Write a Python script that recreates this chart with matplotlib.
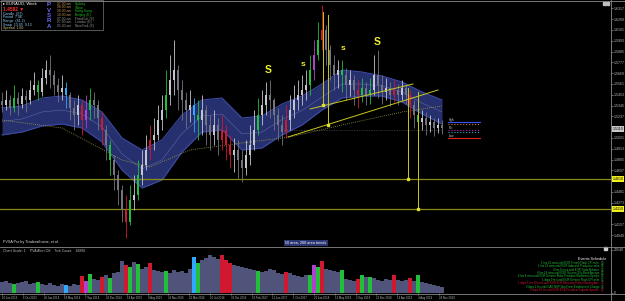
import matplotlib
matplotlib.use("Agg")
import matplotlib.pyplot as plt
from matplotlib.lines import Line2D
from matplotlib.patches import Rectangle

plt.rcParams["font.family"] = ["Liberation Sans", "DejaVu Sans"]

W, H = 625, 301

# weekly EURAUD bars
closes = [
    1.535, 1.540, 1.532, 1.542, 1.536, 1.544, 1.540, 1.550, 1.555, 1.548,
    1.562, 1.570, 1.565, 1.555, 1.548, 1.552, 1.545, 1.532, 1.525, 1.535,
    1.520, 1.530, 1.540, 1.535, 1.522, 1.510, 1.495, 1.480, 1.465, 1.450,
    1.430, 1.418, 1.440, 1.445, 1.465, 1.475, 1.490, 1.500, 1.505, 1.520,
    1.530, 1.545, 1.560, 1.570, 1.550, 1.540, 1.530, 1.535, 1.525, 1.520,
    1.530, 1.515, 1.505, 1.515, 1.500, 1.510, 1.495, 1.485, 1.490, 1.480,
    1.472, 1.485, 1.495, 1.510, 1.525, 1.535, 1.545, 1.540, 1.525, 1.515,
    1.508, 1.520, 1.530, 1.540, 1.545, 1.550, 1.555, 1.570, 1.585, 1.600,
    1.610, 1.590, 1.575, 1.565, 1.570, 1.565, 1.555, 1.560, 1.550, 1.545,
    1.552, 1.545, 1.550, 1.565, 1.555, 1.548, 1.552, 1.545, 1.550, 1.545,
    1.552, 1.545, 1.535, 1.525, 1.518, 1.522, 1.515, 1.518, 1.512, 1.515,
    1.512,
]
highs = [
    1.548, 1.550, 1.545, 1.555, 1.548, 1.552, 1.550, 1.560, 1.568, 1.560,
    1.572, 1.580, 1.585, 1.570, 1.562, 1.565, 1.558, 1.548, 1.540, 1.545,
    1.540, 1.545, 1.552, 1.548, 1.540, 1.528, 1.515, 1.500, 1.485, 1.470,
    1.455, 1.445, 1.455, 1.465, 1.480, 1.490, 1.505, 1.515, 1.522, 1.535,
    1.545, 1.570, 1.585, 1.600, 1.575, 1.560, 1.548, 1.550, 1.542, 1.540,
    1.545, 1.535, 1.525, 1.530, 1.522, 1.525, 1.515, 1.505, 1.502, 1.500,
    1.490, 1.500, 1.515, 1.530, 1.542, 1.550, 1.558, 1.560, 1.542, 1.532,
    1.525, 1.535, 1.545, 1.555, 1.560, 1.565, 1.570, 1.585, 1.600, 1.618,
    1.635, 1.615, 1.595, 1.585, 1.580, 1.580, 1.572, 1.570, 1.565, 1.560,
    1.562, 1.558, 1.562, 1.585, 1.590, 1.565, 1.562, 1.558, 1.560, 1.556,
    1.560, 1.555, 1.550, 1.540, 1.532, 1.530, 1.528, 1.525, 1.522, 1.522,
    1.520,
]
lows = [
    1.528, 1.530, 1.525, 1.528, 1.525, 1.532, 1.528, 1.536, 1.545, 1.540,
    1.544, 1.556, 1.552, 1.545, 1.538, 1.540, 1.532, 1.520, 1.510, 1.515,
    1.505, 1.512, 1.520, 1.522, 1.510, 1.495, 1.480, 1.465, 1.450, 1.435,
    1.418, 1.402, 1.415, 1.430, 1.440, 1.455, 1.470, 1.480, 1.490, 1.500,
    1.510, 1.522, 1.535, 1.545, 1.530, 1.520, 1.512, 1.518, 1.508, 1.500,
    1.505, 1.495, 1.490, 1.495, 1.485, 1.490, 1.480, 1.472, 1.468, 1.462,
    1.458, 1.465, 1.475, 1.490, 1.505, 1.515, 1.525, 1.522, 1.510, 1.500,
    1.495, 1.502, 1.510, 1.522, 1.530, 1.535, 1.540, 1.545, 1.560, 1.580,
    1.590, 1.575, 1.560, 1.550, 1.552, 1.548, 1.540, 1.544, 1.535, 1.532,
    1.538, 1.535, 1.536, 1.545, 1.542, 1.536, 1.540, 1.534, 1.538, 1.535,
    1.540, 1.536, 1.522, 1.512, 1.508, 1.510, 1.505, 1.508, 1.504, 1.507,
    1.506,
]
# tick volume in thousands
volumes = [
    7.0, 7.7, 6.4, 5.8, 6.4, 7.0, 7.7, 5.8, 6.4, 7.0,
    5.8, 5.1, 6.4, 5.1, 4.5, 5.8, 5.1, 4.5, 5.8, 5.1,
    10.9, 7.7, 12.2, 9.0, 8.3, 10.2, 11.5, 9.6, 12.8, 13.4,
    20.5, 17.9, 16.6, 19.8, 18.6, 15.4, 16.6, 19.2, 14.7, 14.1,
    13.4, 14.1, 12.8, 14.7, 13.4, 14.1, 12.8, 15.4, 23.0, 19.2,
    21.1, 22.4, 24.3, 23.0, 21.8, 24.3, 21.1, 19.2, 17.9, 17.3,
    16.6, 16.0, 15.4, 14.7, 14.1, 13.4, 14.1, 15.4, 14.7, 12.8,
    12.2, 13.4, 12.8, 11.5, 10.9, 10.2, 11.5, 11.5, 17.9, 16.6,
    20.5, 15.4, 14.7, 14.1, 13.4, 14.7, 9.0, 8.3, 7.7, 9.0,
    11.5, 10.2, 10.2, 9.6, 8.3, 7.7, 9.0, 8.3, 11.5, 8.3,
    7.7, 8.3, 9.6, 7.7, 11.5, 7.0, 6.4, 5.8, 5.1, 4.5,
    3.8,
]
# PVSRA highlighted bars: index -> kind
pvsra_bars = {
    3: "green", 9: "green", 16: "blue", 20: "red", 21: "magenta", 22: "green",
    25: "red", 27: "green", 31: "red", 32: "green", 34: "green", 37: "red",
    41: "green", 48: "blue", 49: "green", 55: "red", 56: "red", 57: "red",
    64: "green", 71: "red", 77: "green", 78: "magenta", 79: "green", 80: "red",
    85: "green", 89: "red", 90: "green", 92: "green", 98: "red", 102: "red",
    104: "green",
}

# 50 area ribbon
band_idx = [0, 5, 10, 15, 20, 25, 30, 35, 40, 45, 50, 55,
            60, 65, 70, 75, 80, 85, 90, 95, 100, 105, 110]
band_hi = [1.532, 1.534, 1.542, 1.544, 1.540, 1.528, 1.502, 1.490, 1.500, 1.525, 1.540, 1.542,
           1.522, 1.524, 1.536, 1.544, 1.556, 1.570, 1.568, 1.564, 1.558, 1.548, 1.540]
band_lo = [1.505, 1.508, 1.514, 1.516, 1.512, 1.498, 1.470, 1.452, 1.460, 1.488, 1.508, 1.510,
           1.490, 1.492, 1.505, 1.515, 1.530, 1.542, 1.544, 1.544, 1.538, 1.526, 1.516]
# 200 area (dotted)
slow_idx = [0, 15, 30, 37, 47, 60, 72, 85, 100, 110]
slow_ma = [1.520, 1.512, 1.480, 1.473, 1.490, 1.497, 1.503, 1.515, 1.528, 1.534]

sr_levels = [1.461, 1.431]
trend_a_idx, trend_a_px = [77, 102.75], [1.531, 1.556]
trend_b_idx, trend_b_px = [71.5, 109], [1.503, 1.550]
drops_idx = [80.2, 81.4, 101.5, 104]
drops_top = [1.628, 1.625, 1.552, 1.548]
drops_bot = [1.535, 1.515, 1.461, 1.431]

pivot_levels = [1.518, 1.516, 1.510, 1.508, 1.502]
pivot_colors = ["#3c50ff", "#d08020", "#c020c0", "#20b0b0", "#e02020"]
pivot_styles = ["-", ":", ":", ":", "-"]
pivot_names = ["Hgh", "", "Pvt", "", "Low"]

s_idx = [66.5, 75.25, 85.25, 93.75]
s_px = [1.570, 1.576, 1.592, 1.598]
s_txt = ["S", "s", "s", "S"]

price_labels = ["1.6317", "1.6209", "1.6101", "1.5993", "1.5885", "1.5777", "1.5669",
                "1.5561", "1.5453", "1.5345", "1.5237", "1.5129", "1.5021", "1.4913",
                "1.4805", "1.4697", "1.4589", "1.4481", "1.4373", "1.4265", "1.4157",
                "1.4049"]
last_price = 1.5110

date_labels = ["16 Jun 2013", "6 Oct 2013", "26 Jan 2014", "18 May 2014", "7 Sep 2014",
               "28 Dec 2014", "19 Apr 2015", "9 Aug 2015", "29 Nov 2015", "20 Mar 2016",
               "10 Jul 2016", "30 Oct 2016", "19 Feb 2017", "11 Jun 2017", "1 Oct 2017",
               "21 Jan 2018", "13 May 2018", "2 Sep 2018", "23 Dec 2018", "14 Apr 2019",
               "4 Aug 2019", "24 Nov 2019"]

events = [
    ("1 hrs 41 mins until EUR French Flash CPI m/m", "green"),
    ("1 hrs 41 mins until EUR Industrial Production m/m", "green"),
    ("4 hrs 0 mins until EUR Trade Balance", "green"),
    ("4 hrs 14 mins until EUR German 30y Bond Auction", "green"),
    ("6 hrs 8 mins until EUR German Buba President Weidmann Speaks", "green"),
    ("1 days 9 hrs until EUR German Flash CPI m/m", "green"),
    ("1 days 1 hrs 38 mins until EUR ECB Monetary Policy Meeting Acc", "red"),
    ("3 days 2 hrs until CAD NHP Non-Farm Employment Change", "green"),
    ("5 days 10 hrs until EUR ECB President Lagarde Speaks", "red"),
]

info_left = [("Candle  (07)", "#8fd0ff"), ("Period  7.96", "#8fd0ff"),
             ("Range  (81.2)", "#8fd0ff"), ("Swap  13.05  9.13", "#8fd0ff"),
             ("Spread  1.60", "#e0d080")]
sessions = [("07:00 am", "Sydney"), ("08:00 am", "Tokyo"), ("09:00 am", "Hong Kong"),
            ("10:00 am", "Beijing (E)"), ("07:00 am", "Frankfurt (E)"),
            ("07:00 am", "London (E)"), ("01:00 am", "NewYork (E)")]

COL = {"green": "#22c03a", "red": "#d01830", "blue": "#30a8ff", "magenta": "#b040d0"}
BULL, BEAR = "#c4c4cc", "#74747e"
VOLC = "#50547a"
FG = "#b8b8b8"
SMALL = 2.6


def fx(x):
    return x / W


def fy(y):
    return 1 - y / H


fig = plt.figure(figsize=(W / 100, H / 100), dpi=100, facecolor="black")
ax = fig.add_axes([0, fy(246), fx(611), (246 - 1) / H], facecolor="black")
axv = fig.add_axes([0, fy(293), fx(611), 46 / H], facecolor="black")
for a in (ax, axv):
    for s in a.spines.values():
        s.set_visible(False)
    a.set_xlim(-0.5, 152.25)

ax.set_ylim(1.394, 1.639)
axv.set_ylim(0, 29.54)

# ribbon
ax.fill_between(band_idx, band_lo, band_hi, color="#27306e", lw=0, zorder=1)
ax.plot(band_idx, band_hi, color="#3c4aa2", lw=0.8, zorder=1)
ax.plot(band_idx, band_lo, color="#3c4aa2", lw=0.8, zorder=1)
mid = [(a + b) / 2 for a, b in zip(band_hi, band_lo)]
ax.plot(band_idx, mid, color="#6e78b8", lw=0.3, zorder=1)
ax.plot(slow_idx, slow_ma, color="#a0a040", lw=0.6, ls=(0, (1, 1.5)), zorder=1)
ax.plot([70, 110], [1.510, 1.510], color="#909090", lw=0.4, ls=(0, (1, 2)), zorder=1)

# candles
opens = [closes[0] + 0.004] + closes[:-1]
for i, (o, c, hi, lo) in enumerate(zip(opens, closes, highs, lows)):
    if i in pvsra_bars:
        col = COL[pvsra_bars[i]]
    else:
        col = BULL if c >= o else BEAR
    ax.vlines(i, min(lo, o, c), max(hi, o, c), color=col, lw=0.6, zorder=3)
    ax.bar(i, max(abs(c - o), 0.0012), bottom=min(o, c), width=0.55, color=col, lw=0, zorder=3)

# support / resistance and trend lines
for lv in sr_levels:
    ax.axhline(lv, color="#8c8c14", lw=0.9, zorder=2)
ax.plot(trend_a_idx, trend_a_px, color="#c8c820", lw=0.7, zorder=4)
ax.plot(trend_b_idx, trend_b_px, color="#c8c820", lw=0.7, zorder=4)
for xi, t, b in zip(drops_idx, drops_top, drops_bot):
    ax.plot([xi, xi], [t, b], color="#c8c820", lw=0.7, zorder=4)
    ax.plot([xi], [b], marker="s", ms=1.5, color="#e0e030", zorder=4)

for lv, c, ls, nm in zip(pivot_levels, pivot_colors, pivot_styles, pivot_names):
    ax.plot([111.5, 119.5], [lv, lv], color=c, lw=0.8, ls=ls, zorder=4)
    if nm:
        ax.text(111.8, lv + 0.0016, nm, color="#d0d0d0", fontsize=2.2, va="center", zorder=5)

for xi, yv, t in zip(s_idx, s_px, s_txt):
    ax.text(xi, yv, t, color="#f0f030", fontsize=7.5 if t == "S" else 6,
            fontweight="bold", ha="center", va="center", zorder=5)

# price scale (labels hidden where a highlighted marker sits)
marked = [last_price] + sr_levels
shown = [p for p in price_labels if all(abs(float(p) - m) > 0.006 for m in marked)]
ax.yaxis.tick_right()
ax.set_yticks([float(p) for p in shown])
ax.set_yticklabels(shown)
ax.tick_params(axis="y", colors="#909090", labelcolor=FG, labelsize=SMALL, length=1.2,
               width=0.5, pad=0.6)
ax.set_xticks([])
for lv, bg in ((last_price, "#c8c8c8"), (sr_levels[0], "#f0f020"), (sr_levels[1], "#f0f020")):
    ax.text(1.0025, lv, f"{lv:.4f}", transform=ax.get_yaxis_transform(), fontsize=SMALL,
            color="black", va="center", ha="left",
            bbox=dict(boxstyle="square,pad=0.2", fc=bg, ec="none"))

# volume pane
vcols = [COL[pvsra_bars[i]] if i in pvsra_bars else VOLC for i in range(len(volumes))]
axv.bar(range(len(volumes)), volumes, width=0.8, color=vcols, lw=0)
axv.yaxis.tick_right()
axv.set_yticks([0, 27.9])
axv.set_yticklabels(["0", "29540"])
axv.tick_params(axis="y", colors="#909090", labelcolor=FG, labelsize=SMALL, length=1.2,
                width=0.5, pad=0.6)
axv.set_xticks([k * 5.2 for k in range(len(date_labels))])
axv.set_xticklabels(date_labels)
axv.tick_params(axis="x", colors="#909090", labelcolor=FG, labelsize=2.0, length=1.2,
                width=0.5, pad=0.8)
for lab in axv.get_xticklabels():
    lab.set_horizontalalignment("left")

# frame lines
for line in ([0, W], [0.5, 0.5]), ([0, W], [246.5, 246.5]), ([0, W], [293.5, 293.5]), ([611, 611], [0, 301]):
    fig.add_artist(Line2D([fx(v) for v in line[0]], [fy(v) for v in line[1]],
                          color="#8a8a8a", lw=0.6))

# info box
fig.add_artist(Rectangle((fx(0.5), fy(30)), fx(102), 29.5 / H, fill=False, ec="#7a7a7a", lw=0.5))
fig.text(fx(3), fy(4), "\u25b8 EURAUD, Week", color="white", fontsize=3.0, va="center")
fig.text(fx(3), fy(9), "1.4592 \u25bc", color="#ff3030", fontsize=3.4, va="center",
         fontweight="bold")
for k, (t, c) in enumerate(info_left):
    fig.text(fx(3), fy(13.5 + 3.7 * k), t, color=c, fontsize=2.5, va="center")
for k, ch in enumerate("PVSRA"):
    fig.text(fx(49), fy(5 + 5.3 * k), ch, color="#6c6cff", fontsize=4.4, va="center",
             ha="center", fontweight="bold")
for k, (tm, nm) in enumerate(sessions):
    fig.text(fx(57), fy(3.8 + 3.7 * k), tm, color="#c09050" if k < 4 else "#909090",
             fontsize=2.4, va="center")
    fig.text(fx(75), fy(3.8 + 3.7 * k), nm, color="#20c020" if k < 4 else "#909090",
             fontsize=2.4, va="center")

fig.text(fx(3), fy(241.5), "PVSA Pro by Traderathome, et al.", color="#d8d8d8", fontsize=2.7,
         va="center")
fig.text(fx(306), fy(243), "50 area, 200 area trends", color="white", fontsize=2.7,
         va="center", ha="center", bbox=dict(boxstyle="square,pad=0.35", fc="#2a3672", ec="none"))
fig.text(fx(3), fy(251), "Chart Scale: 1    PVA Alert Off    Tick Count    18896", color=FG,
         fontsize=2.6, va="center")

fig.text(fx(606), fy(258.5), "Events Schedule", color="white", fontsize=2.7, va="center",
         ha="right")
for k, (t, c) in enumerate(events):
    col = COL[c]
    fig.text(fx(599), fy(262.7 + 3.45 * k), t, color=col, fontsize=2.0, va="center", ha="right")
    fig.text(fx(600.5), fy(262.7 + 3.45 * k), "(3)", color=col, fontsize=2.0, va="center",
             ha="left")

fig.add_artist(Rectangle((fx(603), fy(4.5)), fx(2.5), 2.5 / H, color="#c0c0c0"))
fig.add_artist(Rectangle((fx(606.5), fy(4.5)), fx(2.5), 2.5 / H, color="#c0c0c0"))
fig.add_artist(Rectangle((fx(604), fy(250)), fx(3), 3 / H, color="#d0d0d0"))

fig.savefig("out.png", dpi=100, facecolor="black")
